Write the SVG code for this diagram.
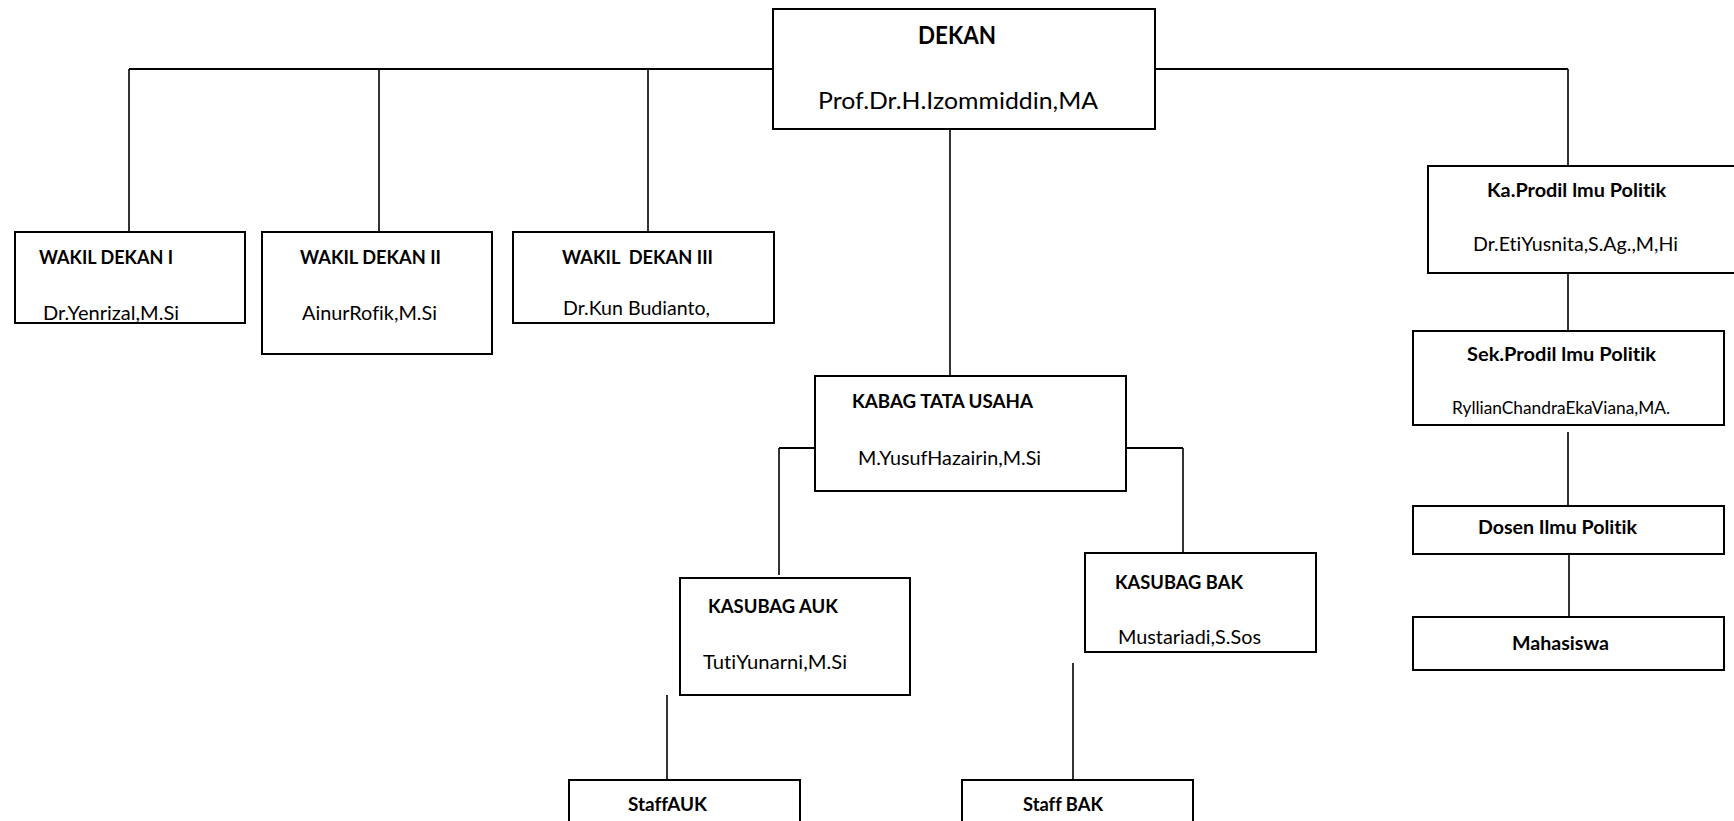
<svg xmlns="http://www.w3.org/2000/svg" width="1734" height="821" viewBox="0 0 1734 821">
<style>
  .box { fill: #fff; stroke: #000; stroke-width: 2; }
  .conn { fill: none; stroke: #000; stroke-width: 2; }
  .v { fill: none; stroke: #000; stroke-width: 1.6; }
  text { font-family: Lato, "Open Sans", "Liberation Sans", sans-serif; fill: #000; font-variant-ligatures: none; font-feature-settings: "liga" 0, "clig" 0; }
  .b { font-weight: bold; font-size: 19px; }
  .r { font-size: 19px; }
  .bb { font-weight: bold; font-size: 24px; }
  .rr { font-size: 24px; }
  .s { font-size: 17px; }
</style>
<rect x="0" y="0" width="1734" height="821" fill="#fff"/>
<g id="connectors">
  <path class="conn" d="M129 69 H773"/>
  <path class="v" d="M129 69 V232"/>
  <path class="v" d="M379 69 V232"/>
  <path class="v" d="M648 69 V235"/>
  <path class="conn" d="M1155 69 H1568"/>
  <path class="v" d="M1568 69 V166"/>
  <path class="v" d="M950 129 V376"/>
  <path class="conn" d="M815 448 H779"/>
  <path class="v" d="M779 448 V575"/>
  <path class="conn" d="M1126 448 H1183"/>
  <path class="v" d="M1183 448 V553"/>
  <path class="v" d="M667 695 V780"/>
  <path class="v" d="M1073 663 V780"/>
  <path class="v" d="M1568 273 V331"/>
  <path class="v" d="M1568 432 V506"/>
  <path class="v" d="M1569 554 V617"/>
</g>
<g id="dekan">
  <rect class="box" x="773" y="9" width="382" height="120"/>
  <text class="bb" x="918" y="44" textLength="78" lengthAdjust="spacingAndGlyphs">DEKAN</text>
  <text class="rr" x="818" y="109" textLength="280" lengthAdjust="spacingAndGlyphs">Prof.Dr.H.Izommiddin,MA</text>
</g>
<g id="wakil1">
  <rect class="box" x="15" y="232" width="230" height="91"/>
  <text class="b" x="39" y="264" textLength="134" lengthAdjust="spacingAndGlyphs">WAKIL DEKAN I</text>
  <text class="r" x="43" y="320" textLength="136" lengthAdjust="spacingAndGlyphs">Dr.Yenrizal,M.Si</text>
</g>
<g id="wakil2">
  <rect class="box" x="262" y="232" width="230" height="122"/>
  <text class="b" x="300" y="264" textLength="141" lengthAdjust="spacingAndGlyphs">WAKIL DEKAN II</text>
  <text class="r" x="302" y="320" textLength="135" lengthAdjust="spacingAndGlyphs">AinurRofik,M.Si</text>
</g>
<g id="wakil3">
  <rect class="box" x="513" y="232" width="261" height="91"/>
  <text class="b" x="562" y="264" textLength="151" lengthAdjust="spacingAndGlyphs" xml:space="preserve">WAKIL  DEKAN III</text>
  <text class="r" x="563" y="315" textLength="147" lengthAdjust="spacingAndGlyphs">Dr.Kun Budianto,</text>
</g>
<g id="kabag">
  <rect class="box" x="815" y="376" width="311" height="115"/>
  <text class="b" x="852" y="408" textLength="181" lengthAdjust="spacingAndGlyphs">KABAG TATA USAHA</text>
  <text class="r" x="858" y="465" textLength="183" lengthAdjust="spacingAndGlyphs">M.YusufHazairin,M.Si</text>
</g>
<g id="kasubag-auk">
  <rect class="box" x="680" y="578" width="230" height="117"/>
  <text class="b" x="708" y="613" textLength="130" lengthAdjust="spacingAndGlyphs">KASUBAG AUK</text>
  <text class="r" x="703" y="669" textLength="144" lengthAdjust="spacingAndGlyphs">TutiYunarni,M.Si</text>
</g>
<g id="kasubag-bak">
  <rect class="box" x="1085" y="553" width="231" height="99"/>
  <text class="b" x="1115" y="589" textLength="128" lengthAdjust="spacingAndGlyphs">KASUBAG BAK</text>
  <text class="r" x="1118" y="644" textLength="143" lengthAdjust="spacingAndGlyphs">Mustariadi,S.Sos</text>
</g>
<g id="staff-auk">
  <rect class="box" x="569" y="780" width="231" height="60"/>
  <text class="b" x="628" y="811" textLength="79" lengthAdjust="spacingAndGlyphs">StaffAUK</text>
</g>
<g id="staff-bak">
  <rect class="box" x="962" y="780" width="231" height="60"/>
  <text class="b" x="1023" y="811" textLength="80" lengthAdjust="spacingAndGlyphs">Staff BAK</text>
</g>
<g id="kaprodi">
  <rect class="box" x="1428" y="166" width="320" height="107"/>
  <text class="b" x="1487" y="197" textLength="179" lengthAdjust="spacingAndGlyphs">Ka.Prodil lmu Politik</text>
  <text class="r" x="1473" y="251" textLength="205" lengthAdjust="spacingAndGlyphs">Dr.EtiYusnita,S.Ag.,M,Hi</text>
</g>
<g id="sekprodi">
  <rect class="box" x="1413" y="331" width="311" height="94"/>
  <text class="b" x="1467" y="361" textLength="189" lengthAdjust="spacingAndGlyphs">Sek.Prodil lmu Politik</text>
  <text class="s" x="1452" y="414" textLength="218" lengthAdjust="spacingAndGlyphs">RyllianChandraEkaViana,MA.</text>
</g>
<g id="dosen">
  <rect class="box" x="1413" y="506" width="311" height="48"/>
  <text class="b" x="1478" y="534" textLength="159" lengthAdjust="spacingAndGlyphs">Dosen Ilmu Politik</text>
</g>
<g id="mahasiswa">
  <rect class="box" x="1413" y="617" width="311" height="53"/>
  <text class="b" x="1512" y="650" textLength="97" lengthAdjust="spacingAndGlyphs">Mahasiswa</text>
</g>
</svg>
